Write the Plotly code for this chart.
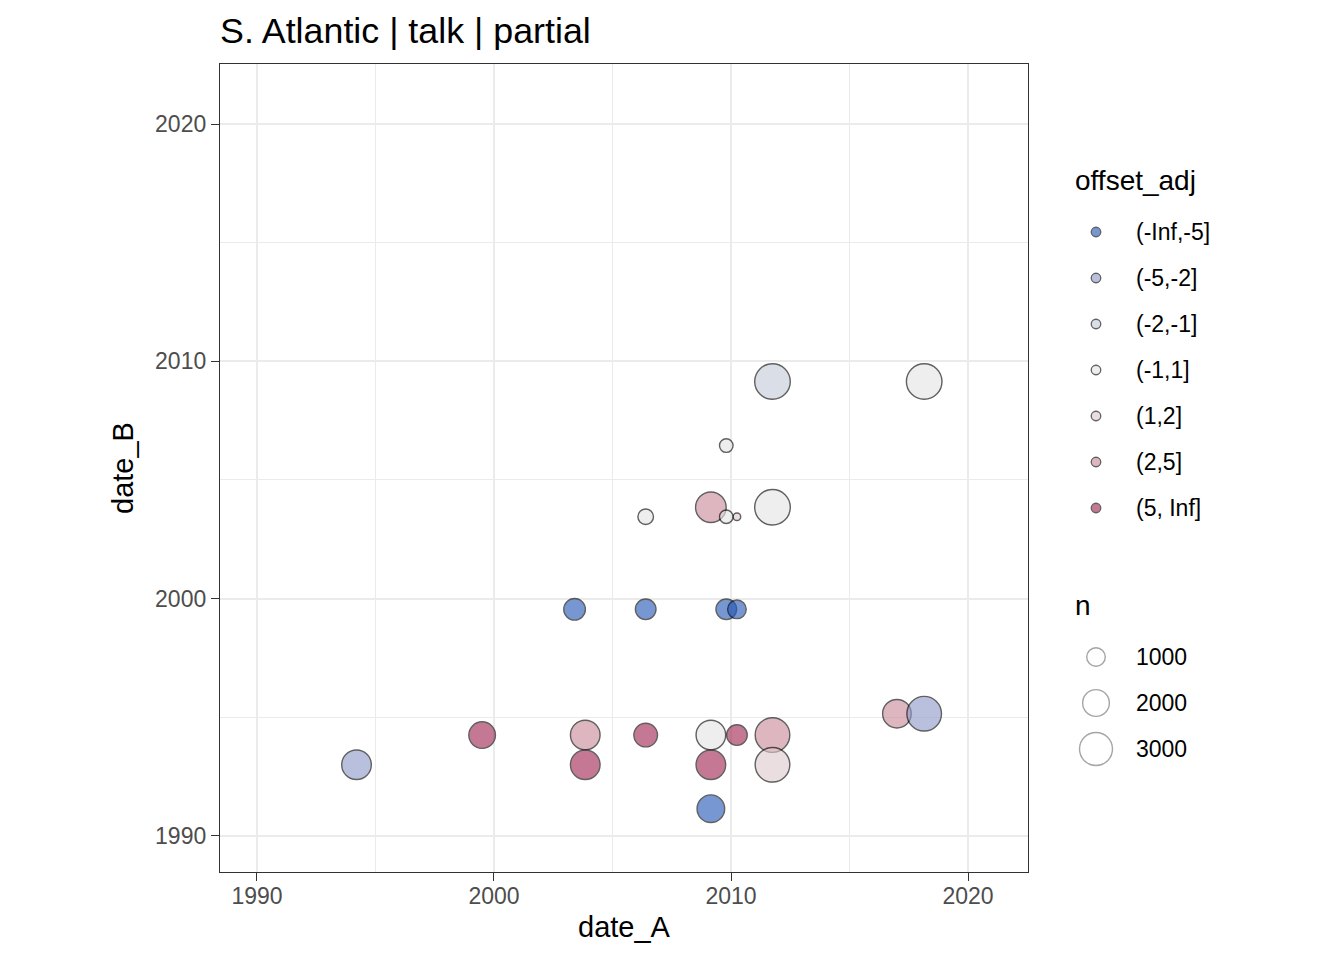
import plotly.graph_objects as go
import math

# ---------------- data ----------------
date_A = [1994.2, 1999.5, 2003.85, 2003.85, 2006.4, 2009.15, 2010.25, 2011.75, 2009.15, 2011.75,
          2009.15, 2011.75, 2018.15, 2009.8, 2006.4, 2009.15, 2009.8, 2010.25, 2011.75,
          2003.4, 2006.4, 2009.8, 2010.25, 2017.0, 2018.15]
date_B = [1993.0, 1994.25, 1994.25, 1993.0, 1994.25, 1994.25, 1994.25, 1994.25, 1993.0, 1993.0,
          1991.15, 2009.15, 2009.15, 2006.45, 2003.45, 2003.85, 2003.45, 2003.45, 2003.85,
          1999.55, 1999.55, 1999.55, 1999.55, 1995.15, 1995.15]
offset_adj = ["(-5,-2]", "(5, Inf]", "(2,5]", "(5, Inf]", "(5, Inf]", "(-1,1]", "(5, Inf]", "(2,5]", "(5, Inf]", "(1,2]",
              "(-Inf,-5]", "(-2,-1]", "(-1,1]", "(-1,1]", "(-1,1]", "(2,5]", "(-1,1]", "(1,2]", "(-1,1]",
              "(-Inf,-5]", "(-Inf,-5]", "(-Inf,-5]", "(-Inf,-5]", "(2,5]", "(-5,-2]"]
n = [2440, 1990, 2440, 2440, 1580, 2440, 1215, 3300, 2440, 3300,
     2130, 3480, 3480, 550, 715, 2600, 550, 180, 3480,
     1330, 1215, 1215, 1000, 2280, 3300]

categories = ["(-Inf,-5]", "(-5,-2]", "(-2,-1]", "(-1,1]", "(1,2]", "(2,5]", "(5, Inf]"]
cat_colors = ["#2358b6", "#8f9bcb", "#c5cad9", "#e4e4e4", "#dfcacf", "#ca8a99", "#a22652"]
size_breaks = [1000, 2000, 3000]
x_ticks = [1990, 2000, 2010, 2020]
y_ticks = [1990, 2000, 2010, 2020]

# ---------------- scales ----------------
ALPHA = 0.62
LINEW = 1.4
color_map = dict(zip(categories, cat_colors))


def size_scale(v):
    return math.sqrt(10 + 0.39 * v) - LINEW


# page body has an 8px margin; work in screen (reference) pixels
OFF = 8
W, H = 1344 - OFF, 960 - OFF
PANEL_L, PANEL_T, PANEL_R, PANEL_B = 220, 64, 1028, 872
ML, MT = PANEL_L - OFF, PANEL_T - OFF
MB = H - (PANEL_B - OFF)
MR = 12
PW = W - ML - MR
PANEL_W = PANEL_R - PANEL_L
LEG_X0 = 1040
AREA_R = PANEL_L + PW

fig = go.Figure()

fig.add_trace(go.Scatter(
    x=date_A, y=date_B, mode="markers",
    marker=dict(
        size=[size_scale(v) for v in n],
        color=[color_map[c] for c in offset_adj],
        opacity=ALPHA,
        line=dict(color="black", width=LINEW),
    ),
    showlegend=False, hoverinfo="skip",
    xaxis="x", yaxis="y",
))

# ---------------- custom legend (overlay axes in screen pixels) ----------------
leg_marker_x = 1096
leg_text_x = 1134
col_y0, col_dy = 232, 46
fig.add_trace(go.Scatter(
    x=[leg_marker_x] * len(categories),
    y=[col_y0 + i * col_dy for i in range(len(categories))],
    mode="markers",
    marker=dict(size=9.5, color=cat_colors, opacity=ALPHA, line=dict(color="black", width=1.3)),
    showlegend=False, hoverinfo="skip", xaxis="x2", yaxis="y2",
))
size_y0 = 657
fig.add_trace(go.Scatter(
    x=[leg_marker_x] * len(size_breaks),
    y=[size_y0 + i * col_dy for i in range(len(size_breaks))],
    mode="markers",
    marker=dict(size=[size_scale(v) for v in size_breaks], color="rgba(0,0,0,0)",
                line=dict(color="#7f7f7f", width=LINEW)),
    showlegend=False, hoverinfo="skip", xaxis="x2", yaxis="y2",
))

annotations = []
FONT = "Liberation Sans, Arial, sans-serif"
annotations.append(dict(x=1073, y=180, xref="x2", yref="y2", text="offset_adj", showarrow=False,
                        xanchor="left", yanchor="middle", font=dict(size=28, color="black", family=FONT)))
for i, c in enumerate(categories):
    annotations.append(dict(x=leg_text_x, y=col_y0 + i * col_dy, xref="x2", yref="y2", text=c,
                            showarrow=False, xanchor="left", yanchor="middle",
                            font=dict(size=23, color="black", family=FONT)))
annotations.append(dict(x=1073, y=605, xref="x2", yref="y2", text="n", showarrow=False,
                        xanchor="left", yanchor="middle", font=dict(size=28, color="black", family=FONT)))
for i, b in enumerate(size_breaks):
    annotations.append(dict(x=leg_text_x, y=size_y0 + i * col_dy, xref="x2", yref="y2", text=str(b),
                            showarrow=False, xanchor="left", yanchor="middle",
                            font=dict(size=23, color="black", family=FONT)))

axis_common = dict(
    showgrid=True, gridcolor="#ebebeb", gridwidth=2,
    zeroline=False, showline=True, linecolor="#333333", linewidth=1.3, mirror=True,
    ticks="outside", ticklen=8, tickwidth=1.4, tickcolor="#333333",
    tickfont=dict(size=23, color="#4d4d4d", family=FONT),
    minor=dict(dtick=5, tick0=1990, showgrid=True, gridcolor="#ebebeb", gridwidth=1, ticks=""),
)

fig.update_layout(
    width=W, height=H,
    margin=dict(l=ML, r=MR, t=MT, b=MB, pad=0),
    paper_bgcolor="white", plot_bgcolor="white",
    font=dict(family=FONT),
    title=dict(text="S. Atlantic | talk | partial", x=(PANEL_L - OFF) / W, xanchor="left", xref="container",
               y=1 - (30 - OFF) / H, yanchor="middle", yref="container",
               font=dict(size=35.8, color="black", family=FONT)),
    xaxis=dict(domain=[0, PANEL_W / PW], range=[1988.44, 2022.53], tickvals=x_ticks,
               ticklabelstandoff=-5,
               title=dict(text="date_A", font=dict(size=29, color="black", family=FONT), standoff=8),
               anchor="y", **axis_common),
    yaxis=dict(domain=[0, 1], range=[1988.48, 2022.53], tickvals=y_ticks,
               title=dict(text="date_B", font=dict(size=29, color="black", family=FONT), standoff=12),
               anchor="x", **axis_common),
    xaxis2=dict(domain=[(LEG_X0 - PANEL_L) / PW, 1], range=[LEG_X0, AREA_R], visible=False,
                anchor="y2", fixedrange=True),
    yaxis2=dict(domain=[0, 1], range=[PANEL_B, PANEL_T], visible=False, anchor="x2", fixedrange=True),
    annotations=annotations,
)

fig.write_html("out.html")
